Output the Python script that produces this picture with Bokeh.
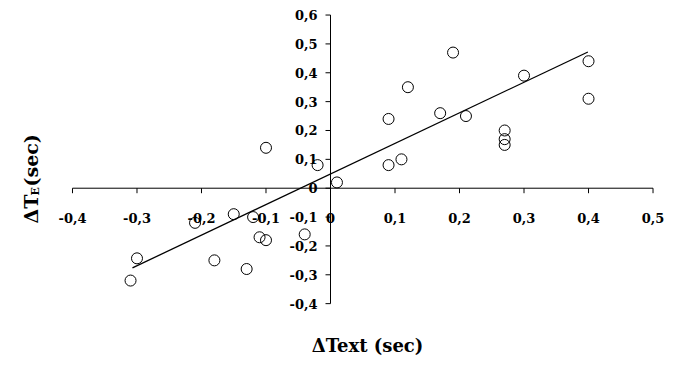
import math
from bokeh.plotting import figure
from bokeh.models import Range1d, Label
from bokeh.core.properties import value
from bokeh.embed import file_html
from bokeh.resources import INLINE

# data
dtext = [-0.31, -0.30, -0.21, -0.18, -0.15, -0.13, -0.12, -0.11, -0.10, -0.10,
         -0.04, -0.02, 0.01, 0.09, 0.09, 0.11, 0.12, 0.17, 0.19, 0.21,
         0.27, 0.27, 0.27, 0.30, 0.40, 0.40]
dte = [-0.32, -0.243, -0.12, -0.25, -0.09, -0.28, -0.10, -0.17, -0.18, 0.14,
       -0.16, 0.08, 0.02, 0.08, 0.24, 0.10, 0.35, 0.26, 0.47, 0.25,
       0.20, 0.17, 0.15, 0.39, 0.44, 0.31]
fit_x = [-0.307, 0.399]
fit_y = [-0.276, 0.472]

x_ticks = [-0.4, -0.3, -0.2, -0.1, 0.0, 0.1, 0.2, 0.3, 0.4, 0.5]
x_tick_labels = ["-0,4", "-0,3", "-0,2", "-0,1", "0", "0,1", "0,2", "0,3", "0,4", "0,5"]
y_ticks = [-0.4, -0.3, -0.2, -0.1, 0.0, 0.1, 0.2, 0.3, 0.4, 0.5, 0.6]
y_tick_labels = ["-0,4", "-0,3", "-0,2", "-0,1", "0", "0,1", "0,2", "0,3", "0,4", "0,5", "0,6"]

FONT = value("DejaVu Serif")

p = figure(width=676, height=365, output_backend="svg", toolbar_location=None,
           x_range=Range1d(-0.5116, 0.5364), y_range=Range1d(-0.6143, 0.6504),
           x_axis_location=None, y_axis_location=None,
           min_border=0, min_border_left=0, min_border_right=0,
           min_border_top=0, min_border_bottom=0)
p.outline_line_color = None
p.xgrid.visible = False
p.ygrid.visible = False
p.background_fill_color = "white"
p.border_fill_color = "white"

# axes through the origin
p.segment(x0=[min(x_ticks)], y0=[0], x1=[max(x_ticks)], y1=[0], line_color="black", line_width=1)
p.segment(x0=[0], y0=[min(y_ticks)], x1=[0], y1=[max(y_ticks)], line_color="black", line_width=1)
p.ray(x=x_ticks, y=[0] * len(x_ticks), length=5, length_units="screen",
      angle=-math.pi / 2, line_color="black", line_width=1)
p.ray(x=[0] * len(y_ticks), y=y_ticks, length=5, length_units="screen",
      angle=math.pi, line_color="black", line_width=1)

p.text(x=x_ticks, y=[0] * len(x_ticks), text=x_tick_labels, y_offset=30,
       text_align="center", text_baseline="middle", text_font=FONT,
       text_font_style="bold", text_font_size="13px", text_color="black")
p.text(x=[0] * len(y_ticks), y=y_ticks, text=y_tick_labels, x_offset=-13,
       text_align="right", text_baseline="middle", text_font=FONT,
       text_font_style="bold", text_font_size="13px", text_color="black")

# regression line and points
p.line(fit_x, fit_y, line_color="black", line_width=1.3)
p.scatter(dtext, dte, marker="circle", size=11, fill_color="white",
          fill_alpha=0.0, line_color="black", line_width=1)

# axis titles
p.add_layout(Label(x=367, y=20, x_units="screen", y_units="screen", text="ΔText (sec)",
                   text_align="center", text_baseline="middle", text_font="DejaVu Serif",
                   text_font_style="bold", text_font_size="18px", text_color="black"))
p.add_layout(Label(x=30, y=142, x_units="screen", y_units="screen", text="ΔT",
                   angle=math.pi / 2, text_align="left", text_baseline="alphabetic",
                   text_font="DejaVu Serif", text_font_style="bold",
                   text_font_size="19px", text_color="black"))
p.add_layout(Label(x=35, y=170, x_units="screen", y_units="screen", text="E",
                   angle=math.pi / 2, text_align="left", text_baseline="alphabetic",
                   text_font="DejaVu Serif", text_font_style="bold",
                   text_font_size="11px", text_color="black"))
p.add_layout(Label(x=30, y=179, x_units="screen", y_units="screen", text=" (sec)",
                   angle=math.pi / 2, text_align="left", text_baseline="alphabetic",
                   text_font="DejaVu Serif", text_font_style="bold",
                   text_font_size="19px", text_color="black"))

open("out.html", "w").write(file_html(p, INLINE))
